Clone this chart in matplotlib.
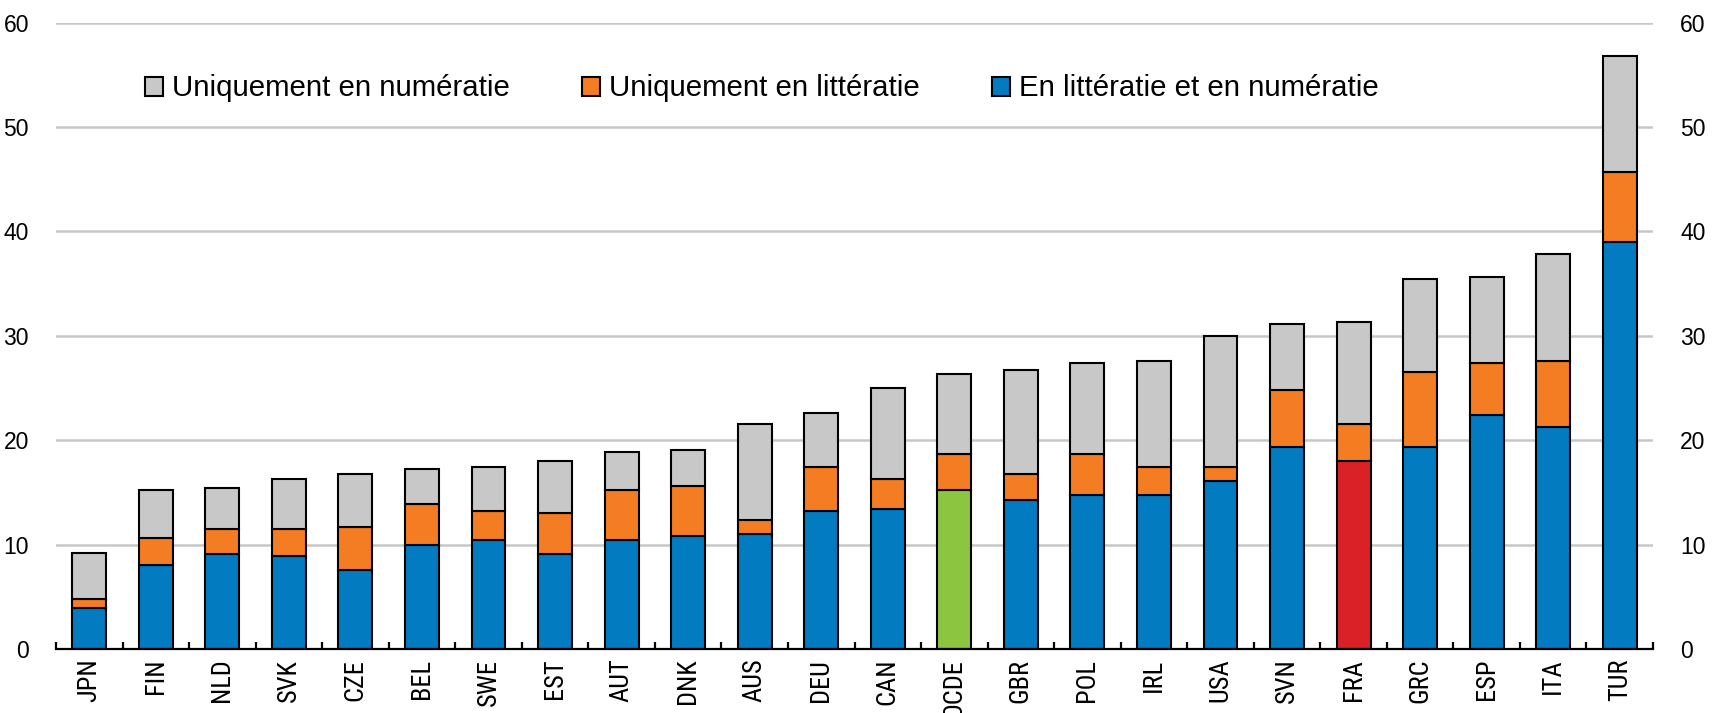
import numpy as np
import matplotlib
matplotlib.use("Agg")
import matplotlib.pyplot as plt
from matplotlib.patches import Patch
from matplotlib import font_manager

countries = ['JPN', 'FIN', 'NLD', 'SVK', 'CZE', 'BEL', 'SWE', 'EST', 'AUT', 'DNK',
             'AUS', 'DEU', 'CAN', 'OCDE', 'GBR', 'POL', 'IRL', 'USA', 'SVN', 'FRA',
             'GRC', 'ESP', 'ITA', 'TUR']
both = [3.9, 8.0, 9.1, 8.9, 7.6, 10.0, 10.4, 9.1, 10.4, 10.8, 11.05, 13.2, 13.45,
        15.2, 14.3, 14.75, 14.75, 16.1, 19.35, 18.05, 19.35, 22.4, 21.3, 38.95]
lit_only = [0.85, 2.6, 2.4, 2.6, 4.1, 3.9, 2.8, 3.9, 4.8, 4.8, 1.35, 4.2, 2.85,
            3.5, 2.45, 3.9, 2.65, 1.3, 5.45, 3.5, 7.2, 5.0, 6.3, 6.75]
num_only = [4.4, 4.6, 3.95, 4.8, 5.05, 3.3, 4.2, 5.05, 3.7, 3.5, 9.15, 5.2, 8.75,
            7.65, 10.0, 8.75, 10.2, 12.6, 6.3, 9.8, 8.9, 8.25, 10.2, 11.1]
labels = ['Uniquement en numératie', 'Uniquement en littératie',
          'En littératie et en numératie']
yticks = [0, 10, 20, 30, 40, 50, 60]

BLUE = '#037BC1'
ORANGE = '#F47D23'
GREY = '#C8C8C8'
GREEN = '#8CC640'
RED = '#DA2128'
special = {'OCDE': GREEN, 'FRA': RED}

plt.rcParams['font.family'] = ['Liberation Sans', 'DejaVu Sans']

# pick a condensed family for the category labels if one is installed
available = {f.name for f in font_manager.fontManager.ttflist}
narrow_family, narrow_size = None, 15.0
for fam, size in [('Liberation Sans Narrow', 17.5), ('Arial Narrow', 17.5),
                  ('Roboto Condensed', 19.0), ('Open Sans Condensed', 18.5)]:
    if fam in available:
        narrow_family, narrow_size = fam, size
        break
if narrow_family is None:
    cond = sorted({f.name for f in font_manager.fontManager.ttflist
                   if str(f.stretch) in ('condensed', 'semi-condensed', '75', '87')
                   and 'Serif' not in f.name and 'Mono' not in f.name})
    if cond:
        narrow_family, narrow_size = cond[0], 19.0
xfam = [narrow_family, 'Liberation Sans'] if narrow_family else ['Liberation Sans']

fig = plt.figure(figsize=(17.17, 7.13), dpi=100)
ax = fig.add_axes([56/1717, 1 - 649/713, (1653 - 56)/1717, (649 - 22.7)/713])

x = np.arange(len(countries))
w = 0.51
both_colors = [special.get(c, BLUE) for c in countries]
bottom2 = np.array(both)
bottom3 = bottom2 + np.array(lit_only)
ekw = dict(edgecolor='black', linewidth=1.5, zorder=3)
ax.bar(x, both, w, color=both_colors, **ekw)
ax.bar(x, lit_only, w, bottom=bottom2, color=ORANGE, **ekw)
ax.bar(x, num_only, w, bottom=bottom3, color=GREY, **ekw)

ax.set_xlim(-0.5, len(countries) - 0.5)
ax.set_ylim(0, 60)
ax.set_yticks(yticks)
ax.yaxis.grid(True, color='#C8C8C8', linewidth=1.8)
ax.set_axisbelow(True)
for s in ['left', 'right', 'top']:
    ax.spines[s].set_visible(False)
ax.spines['bottom'].set_linewidth(1.6)
ax.spines['bottom'].set_zorder(4)

ax.tick_params(axis='y', which='both', left=False, right=False,
               labelleft=True, labelright=True, labelsize=16.5, pad=16)
ax.set_xticks(x)
ax.set_xticklabels(countries, rotation=90, fontsize=narrow_size, family=xfam)
ax.tick_params(axis='x', which='major', length=0, pad=7)
ax.set_xticks(np.arange(-0.5, len(countries), 1), minor=True)
ax.tick_params(axis='x', which='minor', direction='in', length=5, width=1.6,
               color='black')

handles = [Patch(facecolor=GREY, edgecolor='black', linewidth=1.5),
           Patch(facecolor=ORANGE, edgecolor='black', linewidth=1.5),
           Patch(facecolor=BLUE, edgecolor='black', linewidth=1.5)]
fig.legend(handles, labels, ncol=3, loc='center left',
           bbox_to_anchor=(145/1717, 1 - 88.5/713), bbox_transform=fig.transFigure,
           frameon=False, fontsize=21.2, handlelength=0.62, handleheight=0.62,
           handletextpad=0.3, columnspacing=2.45, borderpad=0, borderaxespad=0)

fig.savefig('out.png', dpi=100)
